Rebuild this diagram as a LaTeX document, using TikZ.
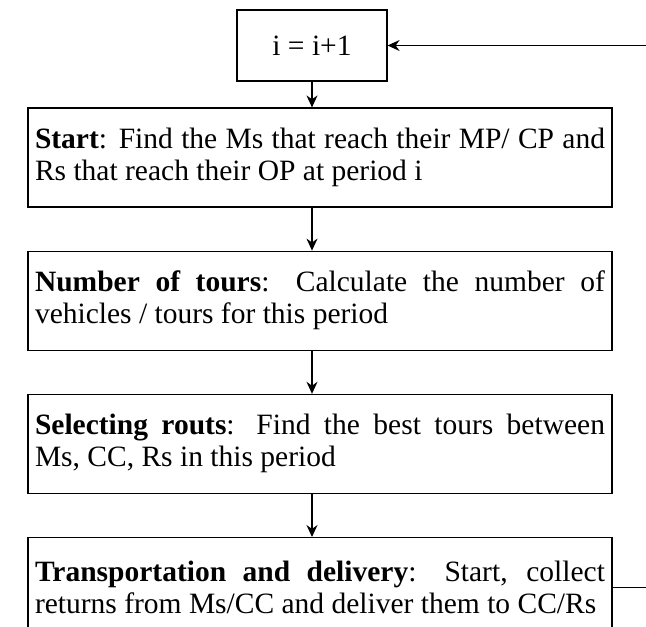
\documentclass[tikz,border=0pt]{standalone}
\usepackage{fontspec}
\setmainfont{Liberation Serif}[WordSpace={1,1,0}]
\usetikzlibrary{arrows.meta}
\usetikzlibrary{positioning}
\hyphenpenalty=10000
\exhyphenpenalty=10000

\begin{document}
\begin{tikzpicture}[
      x=1pt, y=-1pt,
      stage/.style={rectangle, draw, line width=1.2pt, minimum width=584pt, minimum height=99pt, text width=570pt, inner xsep=7pt, align=justify, font=\fontsize{29.5}{32}\selectfont},
      counter/.style={rectangle, draw, line width=1.2pt, minimum width=150pt, minimum height=71pt, font=\fontsize{29.5}{32}\selectfont},
      arrow/.style={-{Stealth[length=12pt,width=11pt]}, line width=1.2pt}
      ]
      \useasboundingbox (0,0) rectangle (646,627);

      % Nodes
      \node[counter] (inc) at (312,45.5) {i = i+1};
      \node[stage] (start) at (320,157.5) {\textbf{Start}: Find the Ms that reach their MP/ CP and Rs that reach their OP at period i};
      \node[stage, below=43pt of start] (tours) {\textbf{Number of tours}: Calculate the number of vehicles / tours for this period};
      \node[stage, below=43pt of tours] (routs) {\textbf{Selecting routs}: Find the best tours between Ms, CC, Rs in this period};
      \node[stage, below=43pt of routs] (deliver) {\textbf{Transportation and delivery}: Start, collect returns from Ms/CC and deliver them to CC/Rs};

      % Arrows
      \draw[arrow] (inc.south) -- (start.north -| inc.south);
      \draw[arrow] (start.south -| inc) -- (tours.north -| inc);
      \draw[arrow] (tours.south -| inc) -- (routs.north -| inc);
      \draw[arrow] (routs.south -| inc) -- (deliver.north -| inc);
      \draw[arrow] (deliver.east) -- ++(44,0) |- (inc.east);

\end{tikzpicture}
\end{document}
